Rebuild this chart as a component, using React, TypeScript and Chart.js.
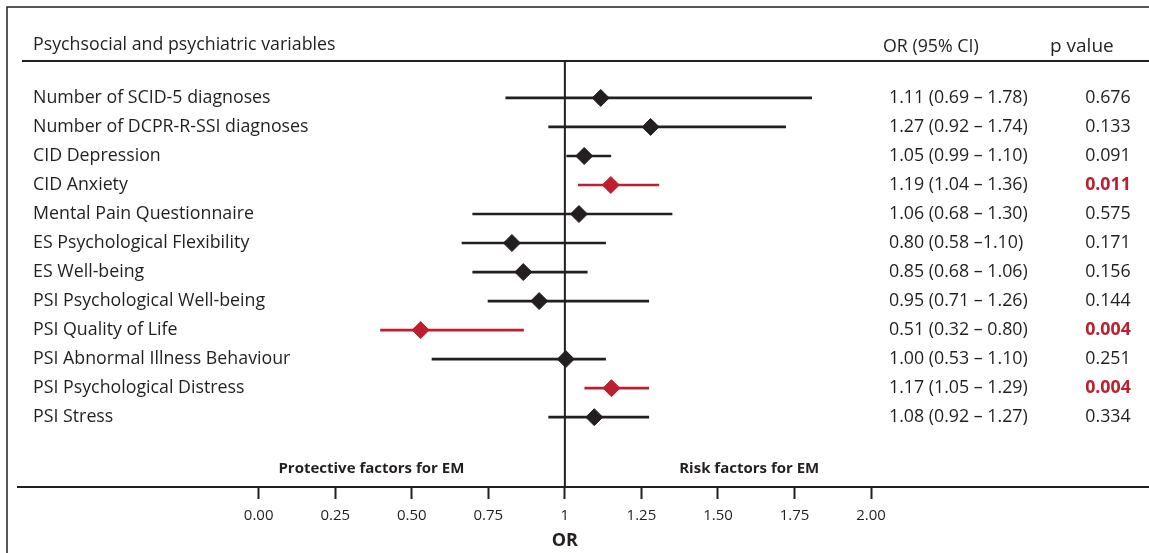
import React, { useEffect, useRef } from 'react';
import { Chart, registerables } from 'chart.js';

Chart.register(...registerables);

const DARK = '#231f20';
const RED = '#be1e2d';
const FONT = "'Open Sans', sans-serif";

const variables = [
  'Number of SCID-5 diagnoses',
  'Number of DCPR-R-SSI diagnoses',
  'CID Depression',
  'CID Anxiety',
  'Mental Pain Questionnaire',
  'ES Psychological Flexibility',
  'ES Well-being',
  'PSI Psychological Well-being',
  'PSI Quality of Life',
  'PSI Abnormal Illness Behaviour',
  'PSI Psychological Distress',
  'PSI Stress',
];

const orLabels = [
  '1.11 (0.69 – 1.78)',
  '1.27 (0.92 – 1.74)',
  '1.05 (0.99 – 1.10)',
  '1.19 (1.04 – 1.36)',
  '1.06 (0.68 – 1.30)',
  '0.80 (0.58 –1.10)',
  '0.85 (0.68 – 1.06)',
  '0.95 (0.71 – 1.26)',
  '0.51 (0.32 – 0.80)',
  '1.00 (0.53 – 1.10)',
  '1.17 (1.05 – 1.29)',
  '1.08 (0.92 – 1.27)',
];

const pValues = ['0.676', '0.133', '0.091', '0.011', '0.575', '0.171', '0.156', '0.144', '0.004', '0.251', '0.004', '0.334'];
const significant = [false, false, false, true, false, false, false, false, true, false, true, false];

// Values as drawn in the figure
const pointEstimates = [1.117, 1.28, 1.063, 1.15, 1.046, 0.827, 0.864, 0.916, 0.529, 1.003, 1.152, 1.096];
const ciLower = [0.807, 0.947, 1.006, 1.044, 0.699, 0.664, 0.699, 0.749, 0.398, 0.566, 1.065, 0.947];
const ciUpper = [1.806, 1.721, 1.15, 1.307, 1.35, 1.133, 1.073, 1.274, 0.865, 1.133, 1.274, 1.274];

const tickValues = [0, 0.25, 0.5, 0.75, 1, 1.25, 1.5, 1.75, 2];
const tickLabels = ['0.00', '0.25', '0.50', '0.75', '1', '1.25', '1.50', '1.75', '2.00'];

const headerTitle = 'Psychsocial and psychiatric variables';
const headerOR = 'OR (95% CI)';
const headerP = 'p value';
const protectiveLabel = 'Protective factors for EM';
const riskLabel = 'Risk factors for EM';
const axisTitle = 'OR';

const TEXT_SIZE = 17.8;

const forestPlugin = {
  id: 'forestDecor',
  beforeDatasetsDraw(chart: any) {
    const { ctx, chartArea, scales } = chart;
    const x1 = scales.x.getPixelForValue(1);
    ctx.save();
    ctx.strokeStyle = DARK;
    ctx.lineWidth = 2;
    ctx.beginPath();
    ctx.moveTo(x1, chartArea.top);
    ctx.lineTo(x1, chartArea.bottom);
    ctx.stroke();
    ctx.restore();
  },
  afterDraw(chart: any) {
    const { ctx, scales, width } = chart;
    const ys = scales.y;
    const xs = scales.x;
    ctx.save();
    // frame
    ctx.strokeStyle = DARK;
    ctx.lineWidth = 1.5;
    ctx.beginPath();
    ctx.moveTo(7, 553);
    ctx.lineTo(7, 7);
    ctx.lineTo(width, 7);
    ctx.stroke();
    // header underline
    ctx.lineWidth = 2;
    ctx.beginPath();
    ctx.moveTo(22, 61);
    ctx.lineTo(width, 61);
    ctx.stroke();

    ctx.fillStyle = DARK;
    ctx.textBaseline = 'middle';
    ctx.font = `${TEXT_SIZE}px ${FONT}`;
    ctx.textAlign = 'left';
    ctx.fillText(headerTitle, 33, 45);
    ctx.fillText(headerOR, 883, 47);
    ctx.font = `19px ${FONT}`;
    ctx.fillText(headerP, 1050, 47);

    variables.forEach((v, i) => {
      const y = ys.getPixelForValue(i);
      ctx.font = `${TEXT_SIZE}px ${FONT}`;
      ctx.fillStyle = DARK;
      ctx.textAlign = 'left';
      ctx.fillText(v, 33, y);
      ctx.fillText(orLabels[i], 889, y);
      ctx.textAlign = 'center';
      if (significant[i]) {
        ctx.font = `bold ${TEXT_SIZE}px ${FONT}`;
        ctx.fillStyle = RED;
      }
      ctx.fillText(pValues[i], 1108, y);
    });

    ctx.fillStyle = DARK;
    ctx.font = `bold 15px ${FONT}`;
    ctx.textAlign = 'center';
    const ly = ys.getPixelForValue(12.78);
    ctx.fillText(protectiveLabel, xs.getPixelForValue(0.368), ly);
    ctx.fillText(riskLabel, xs.getPixelForValue(1.602), ly);

    // axis title centred under the line of no effect
    ctx.font = `bold 18px ${FONT}`;
    ctx.fillText(axisTitle, xs.getPixelForValue(1), 541);
    ctx.restore();
  },
};

export default function App() {
  const ref = useRef<HTMLCanvasElement | null>(null);
  useEffect(() => {
    if (!ref.current) return;
    const chart = new Chart(ref.current, {
      type: 'scatter',
      data: {
        datasets: [
          {
            type: 'scatter',
            data: pointEstimates.map((v, i) => ({ x: v, y: i })),
            pointStyle: 'rectRot',
            pointRadius: 8.5,
            pointHoverRadius: 8.5,
            borderWidth: 1,
            backgroundColor: significant.map((s) => (s ? RED : DARK)),
            borderColor: significant.map((s) => (s ? RED : DARK)),
            order: 0,
          } as any,
          {
            type: 'bar',
            indexAxis: 'y',
            data: ciLower.map((lo, i) => ({ x: [lo, ciUpper[i]], y: i })),
            barThickness: 2,
            backgroundColor: significant.map((s) => (s ? RED : DARK)),
            borderWidth: 0,
            order: 1,
          } as any,
        ],
      },
      options: {
        responsive: false,
        animation: false,
        events: [],
        layout: { autoPadding: false, padding: { left: 18, right: 0, top: 62, bottom: 0 } },
        plugins: { legend: { display: false }, tooltip: { enabled: false } },
        scales: {
          x: {
            type: 'linear',
            offset: false,
            min: -0.786,
            max: 2.9076,
            afterBuildTicks: (s: any) => {
              s.ticks = tickValues.map((v) => ({ value: v }));
            },
            ticks: {
              autoSkip: false,
              maxRotation: 0,
              padding: 8,
              color: DARK,
              font: { family: FONT, size: 15 },
              callback: (_v: any, i: number) => tickLabels[i],
            },
            grid: {
              offset: false,
              drawOnChartArea: false,
              drawTicks: true,
              tickLength: 12,
              tickWidth: 2,
              tickColor: DARK,
            },
            border: { display: true, width: 2, color: DARK },
            title: {
              display: true,
              text: axisTitle,
              color: 'rgba(0,0,0,0)',
              font: { family: FONT, size: 18, weight: 'bold', lineHeight: 1 },
              padding: { top: 2, bottom: 0 },
            },
          },
          y: {
            type: 'linear',
            offset: false,
            grid: { offset: false },
            min: -1.2375,
            max: 13.406,
            reverse: true,
            display: false,
          },
        },
      } as any,
      plugins: [forestPlugin],
    });
    return () => chart.destroy();
  }, []);
  return (
    <div style={{ position: 'absolute', left: 0, top: 0, width: 1149, height: 553, background: '#fff' }}>
      <canvas ref={ref} width={1149} height={553} style={{ display: 'block' }} />
    </div>
  );
}
